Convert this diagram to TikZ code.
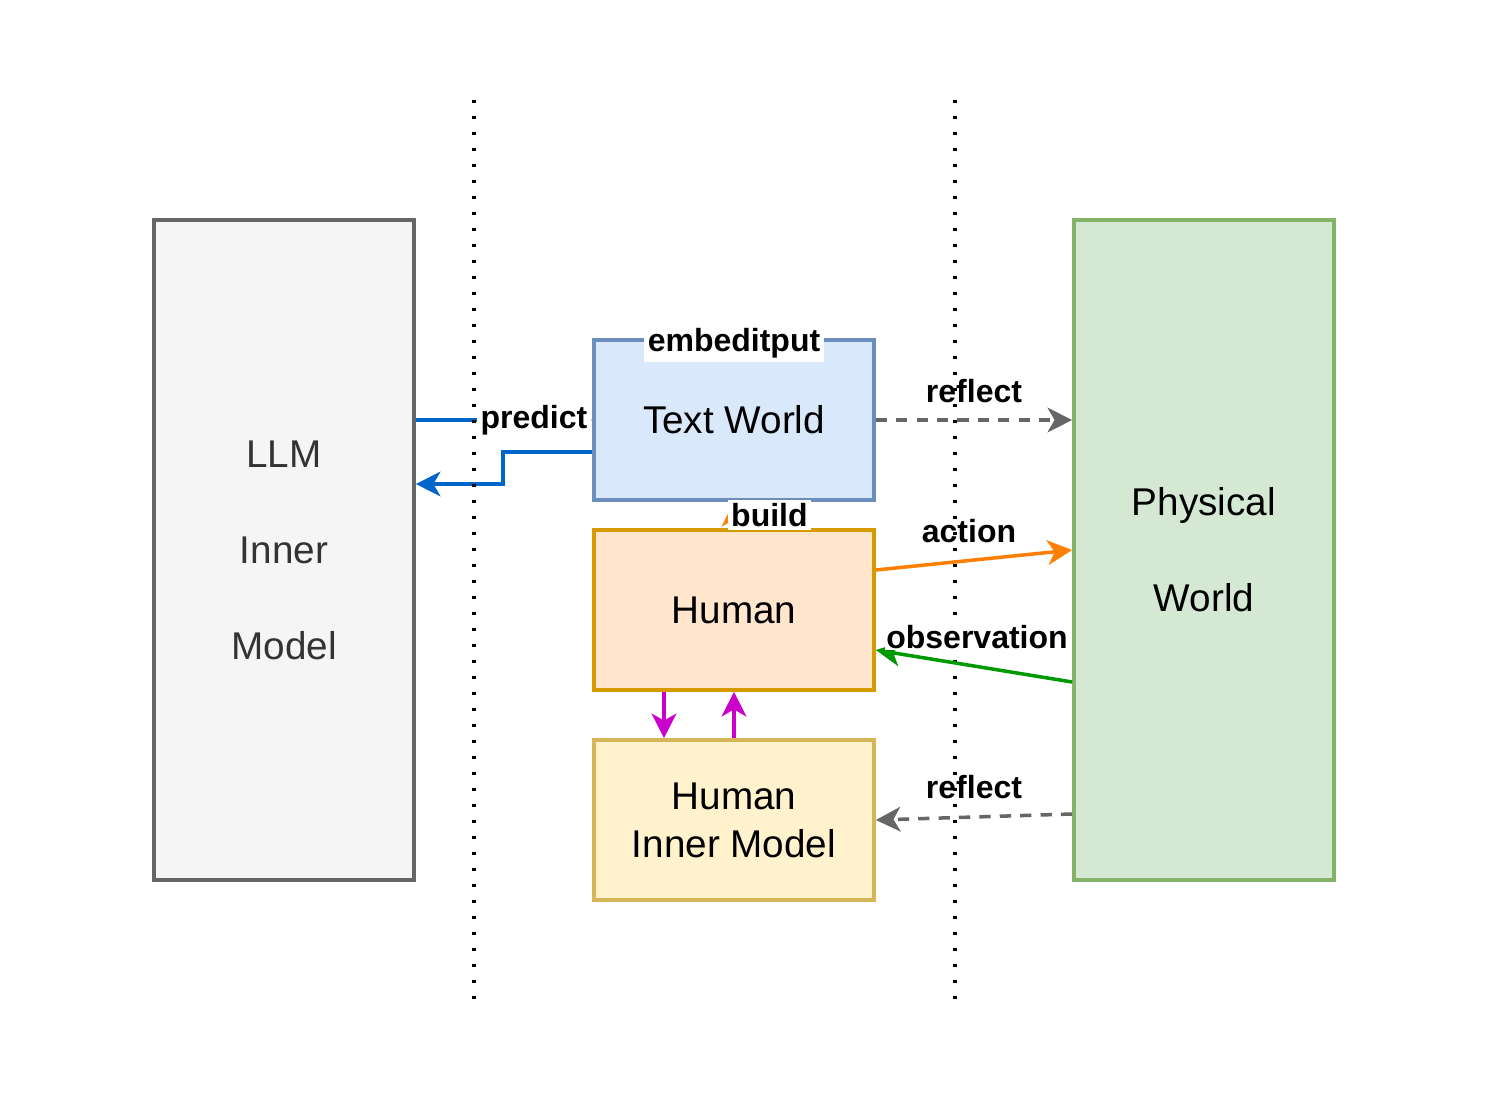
\documentclass[tikz,border=0pt]{standalone}
\usepackage{fontspec}
\setmainfont{Liberation Sans}
\usetikzlibrary{arrows.meta,calc}

\definecolor{llmfill}{HTML}{F5F5F5}
\definecolor{llmdraw}{HTML}{666666}
\definecolor{llmtext}{HTML}{333333}
\definecolor{textfill}{HTML}{DAE8FC}
\definecolor{textdraw}{HTML}{6C8EBF}
\definecolor{humanfill}{HTML}{FFE6CC}
\definecolor{humandraw}{HTML}{D79B00}
\definecolor{innerfill}{HTML}{FFF2CC}
\definecolor{innerdraw}{HTML}{D6B656}
\definecolor{physfill}{HTML}{D5E8D4}
\definecolor{physdraw}{HTML}{82B366}
\definecolor{predblue}{HTML}{0066CC}
\definecolor{refgray}{HTML}{666666}
\definecolor{actorange}{HTML}{FF8000}
\definecolor{obsgreen}{HTML}{009900}
\definecolor{loopmag}{HTML}{CC00CC}

\begin{document}
\begin{tikzpicture}[x=0.01cm,y=-0.01cm,
	box/.style={draw,line width=1pt,align=center,inner sep=0pt,font=\fontsize{11}{13.7}\selectfont},
	tall/.style={box,minimum width=2.6cm,minimum height=6.6cm,font=\fontsize{11}{27.3}\selectfont},
	mid/.style={box,minimum width=2.8cm,minimum height=1.6cm},
	lab/.style={text=black,font=\bfseries\fontsize{9.1}{10}\selectfont,inner sep=1pt},
	arr/.style={line width=1pt,-{Stealth[length=7pt,width=7pt,inset=2pt]}},
	refdash/.style={dash pattern=on 3.2pt off 2.6pt},
	sep/.style={line width=0.95pt,dash pattern=on 0.95pt off 3.6pt}]
			\useasboundingbox (0,0) rectangle (1496,1108);
			\node[tall,fill=llmfill,draw=llmdraw,text=llmtext] (llm) at (284,550) {LLM\\Inner\\Model};
			\node[tall,fill=physfill,draw=physdraw] (phys) at (1204,550) {Physical\\World};
			\node[mid,fill=textfill,draw=textdraw] (text) at (734,420) {Text World};
			\node[mid,fill=humanfill,draw=humandraw] (human) at (734,610) {Human};
			\node[mid,fill=innerfill,draw=innerdraw] (inner) at (734,820) {Human\\Inner Model};
			\node[lab,fill=white,yshift=-0.05cm] (embed) at (text.north) {embeditput};
			\draw[arr,predblue] (llm.east |- text.west) -- node[lab,fill=white,pos=0.67] {predict} (text.west);
			\draw[arr,predblue] ($(text.west)+(0,32)$) -- ++(-89,0) |- ($(llm.east)+(0,-66)$);
			\draw[arr,actorange] (human.north) -- (text.south);
			\node[lab,fill=white,anchor=west] (build) at (727,515) {build};
			\draw[arr,refgray,refdash] (text.east) -- node[lab,yshift=0.29cm] {reflect} (phys.west |- text.east);
			\draw[arr,actorange] ($(human.east)+(0,-40)$) -- node[lab,yshift=0.29cm,xshift=-0.05cm] {action} (phys.west);
			\draw[arr,refgray,refdash] ($(phys.west)+(0,264)$) -- node[lab,yshift=0.3cm] {reflect} (inner.east);
			\draw[arr,loopmag] ($(human.south)+(-70,0)$) -- ($(inner.north)+(-70,0)$);
			\draw[arr,loopmag] (inner.north) -- (human.south);
			\foreach \x in {474,955}
				\draw[sep] (\x,100) -- (\x,1000);
			\draw[arr,obsgreen] ($(phys.west)+(0,132)$) -- node[lab,fill=white,inner sep=0.3pt,yshift=0.29cm,xshift=0.03cm] {observation} ($(human.east)+(0,40)$);
	\end{tikzpicture}
\end{document}
